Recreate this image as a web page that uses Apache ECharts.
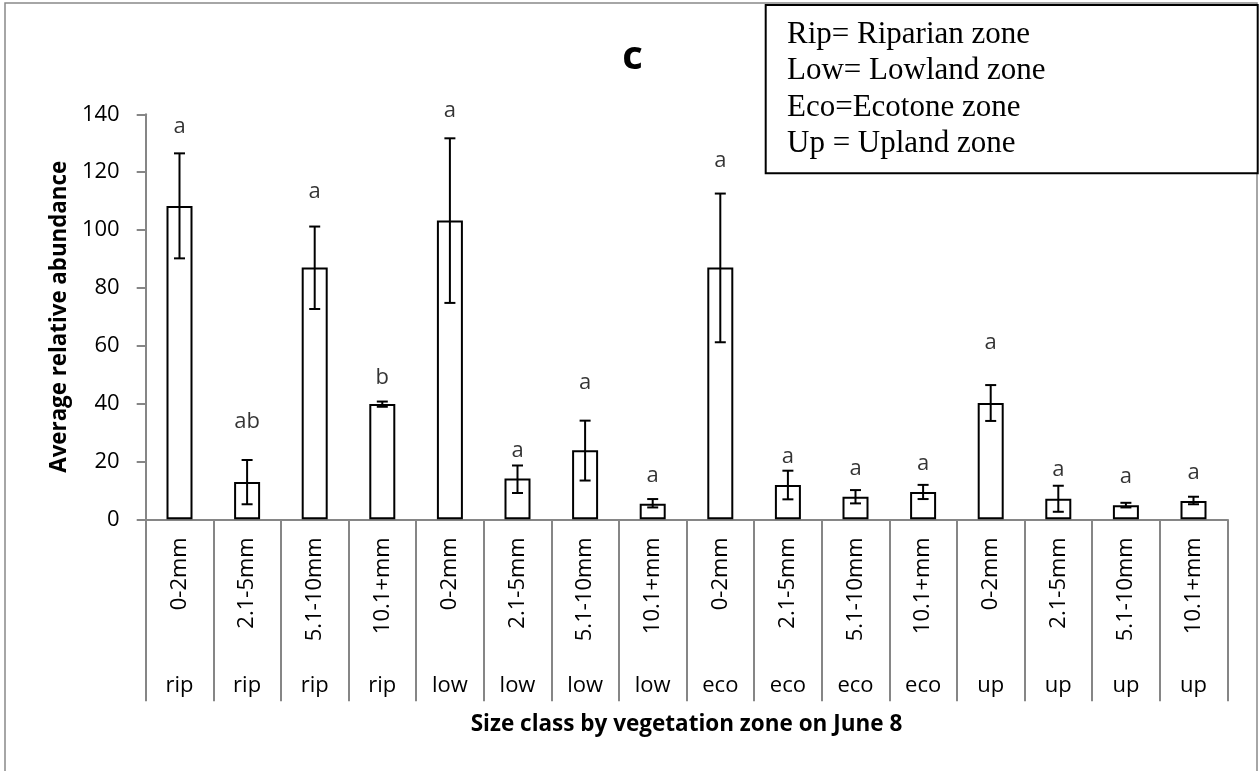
<!DOCTYPE html>
<html>
<head>
<meta charset="utf-8">
<script src="https://cdn.jsdelivr.net/npm/echarts@6/dist/echarts.min.js"></script>
<style>
html,body{margin:0;padding:0;background:#fff;}
#chart{width:1260px;height:771px;}
</style>
</head>
<body>
<div id="chart"></div>
<script>
// ---- data ----
var sizeClasses = ['0-2mm','2.1-5mm','5.1-10mm','10.1+mm','0-2mm','2.1-5mm','5.1-10mm','10.1+mm','0-2mm','2.1-5mm','5.1-10mm','10.1+mm','0-2mm','2.1-5mm','5.1-10mm','10.1+mm'];
var zones = ['rip','rip','rip','rip','low','low','low','low','eco','eco','eco','eco','up','up','up','up'];
var means = [108.3, 12.9, 87.0, 39.9, 103.3, 14.1, 23.9, 5.4, 87.0, 11.9, 7.8, 9.4, 40.2, 7.1, 4.9, 6.3];
var errHigh = [126.5, 20.5, 101.2, 40.7, 131.7, 18.6, 34.1, 7.0, 112.6, 16.8, 10.1, 11.9, 46.4, 11.6, 5.7, 7.8];
var errLow = [90.2, 5.2, 72.7, 38.9, 74.8, 9.1, 13.4, 4.1, 61.2, 6.9, 5.5, 7.0, 34.0, 2.6, 4.1, 5.2];
var letters = ['a','ab','a','b','a','a','a','a','a','a','a','a','a','a','a','a'];
var letterLevel = [134.8, 32.9, 112.4, 48.2, 140.2, 22.9, 46.2, 14.2, 122.9, 20.6, 16.6, 18.3, 60.1, 16.1, 13.8, 15.3];
var yTicks = {min: 0, max: 140, interval: 20};
var chartTitle = 'c';
var yName = 'Average relative abundance';
var xName = 'Size class by vegetation zone on June 8';
var legendLines = ['Rip= Riparian zone', 'Low= Lowland zone', 'Eco=Ecotone zone', 'Up = Upland zone'];

var chart = echarts.init(document.getElementById('chart'), null, {renderer: 'canvas'});

var errData = means.map(function (m, i) { return [i, errLow[i], errHigh[i]]; });
var letterData = letterLevel.map(function (v, i) { return [i, v]; });

var sans = "'Open Sans', 'Noto Sans', sans-serif";
var gray = '#868686';

var legendGraphics = legendLines.map(function (t, i) {
  return {
    type: 'text', x: 787, y: 34.5 + i * 36.6, z: 11,
    style: { text: t, font: "31px 'Liberation Serif', 'DejaVu Serif', serif", fill: '#000', textAlign: 'left', textVerticalAlign: 'middle' }
  };
});

var option = {
  backgroundColor: '#fff',
  animation: false,
  grid: { left: 145.7, right: 32.7, top: 114.3, bottom: 251.7, containLabel: false },
  xAxis: [{
    type: 'category', data: sizeClasses, position: 'bottom',
    axisLine: { show: true, lineStyle: { color: gray, width: 2 } },
    axisTick: { show: true, interval: 0, length: 182, lineStyle: { color: gray, width: 2 } },
    axisLabel: { interval: 0, rotate: 90, margin: 18, fontSize: 22, fontFamily: sans, color: '#000' },
    splitLine: { show: false }
  }, {
    type: 'category', data: zones, position: 'bottom', offset: 0,
    axisLine: { show: false }, axisTick: { show: false },
    axisLabel: { interval: 0, margin: 155, fontSize: 22, fontFamily: sans, color: '#000' },
    name: xName, nameLocation: 'middle', nameGap: 194,
    nameTextStyle: { fontSize: 22.5, fontWeight: 'bold', fontFamily: sans, color: '#000' }
  }],
  yAxis: {
    type: 'value', min: yTicks.min, max: yTicks.max, interval: yTicks.interval,
    axisLine: { show: true, lineStyle: { color: gray, width: 2 } },
    axisTick: { show: true, length: 9, lineStyle: { color: gray, width: 2 } },
    axisLabel: { margin: 26, fontSize: 22, fontFamily: sans, color: '#000' },
    splitLine: { show: false },
    name: yName, nameLocation: 'middle', nameGap: 74,
    nameTextStyle: { fontSize: 22.3, fontWeight: 'bold', fontFamily: sans, color: '#000' }
  },
  series: [{
    type: 'bar', data: means, barWidth: 26, xAxisIndex: 0,
    itemStyle: { color: '#fff', borderColor: '#000', borderWidth: 2 },
    z: 2
  }, {
    type: 'custom', xAxisIndex: 0, data: errData, clip: false, z: 3,
    renderItem: function (params, api) {
      var x = api.value(0);
      var lo = api.coord([x, api.value(1)]);
      var hi = api.coord([x, api.value(2)]);
      var hw = 5.5;
      var st = { stroke: '#000', lineWidth: 2 };
      return { type: 'group', children: [
        { type: 'line', shape: { x1: lo[0], y1: lo[1], x2: hi[0], y2: hi[1] }, style: st },
        { type: 'line', shape: { x1: hi[0] - hw, y1: hi[1], x2: hi[0] + hw, y2: hi[1] }, style: st },
        { type: 'line', shape: { x1: lo[0] - hw, y1: lo[1], x2: lo[0] + hw, y2: lo[1] }, style: st }
      ]};
    }
  }, {
    type: 'scatter', xAxisIndex: 0, data: letterData, symbolSize: 0, clip: false, z: 4,
    label: {
      show: true, position: 'inside', offset: [0, -2.6],
      formatter: function (p) { return letters[p.dataIndex]; },
      fontSize: 22, fontFamily: sans, color: '#000'
    }
  }],
  graphic: [
    { type: 'rect', shape: { x: 5, y: 3, width: 1252, height: 800 }, style: { fill: 'none', stroke: '#898989', lineWidth: 1.5 }, z: 0, silent: true },
    { type: 'text', x: 632.5, y: 57.5, style: { text: chartTitle, font: "bold 40px 'Open Sans', sans-serif", fill: '#000', textAlign: 'center', textVerticalAlign: 'middle' } },
    { type: 'rect', shape: { x: 765.7, y: 5, width: 492, height: 168.3 }, style: { fill: '#fff', stroke: '#000', lineWidth: 2 }, z: 10 }
  ].concat(legendGraphics)
};
chart.setOption(option);
</script>
</body>
</html>
